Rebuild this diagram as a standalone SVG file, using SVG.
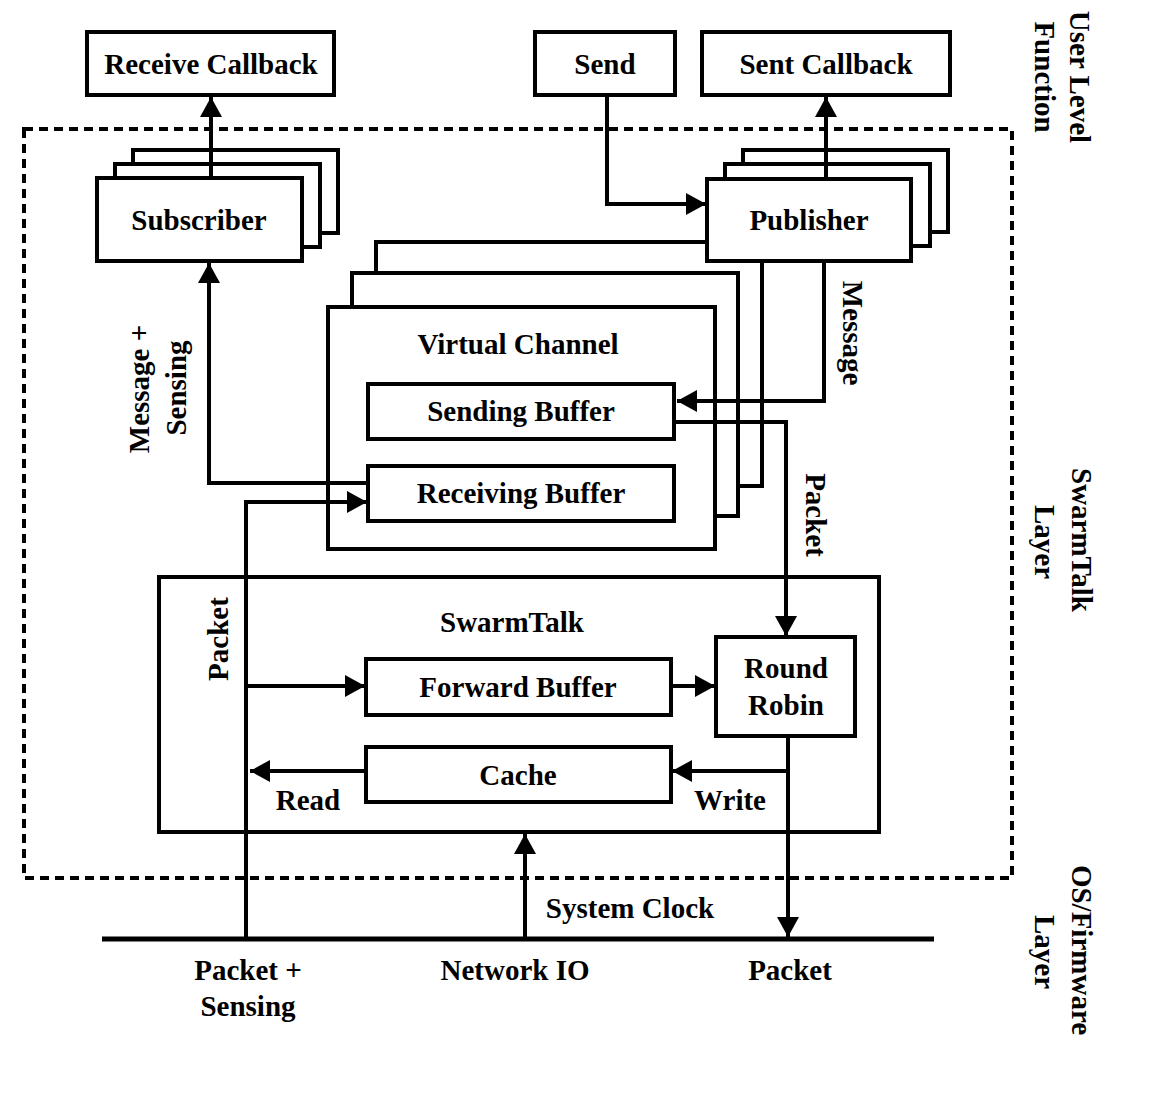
<svg xmlns="http://www.w3.org/2000/svg" width="1153" height="1102" viewBox="0 0 1153 1102">
<style>
.box{fill:#fff;stroke:#000;stroke-width:4}
.ln{fill:none;stroke:#000;stroke-width:4}
.ar{fill:none;stroke:#000;stroke-width:4;marker-end:url(#ah)}
.t{font-family:"Liberation Serif","Times New Roman",serif;font-weight:bold;font-size:29px;fill:#000;text-anchor:middle}
</style>
<defs>
<marker id="ah" markerUnits="userSpaceOnUse" markerWidth="22" markerHeight="22" refX="20" refY="11" orient="auto">
<path d="M0,0 L20,11 L0,22 z" fill="#000"/>
</marker>
</defs>
<rect width="1153" height="1102" fill="#fff"/>

<g id="layer-boundary">
<rect x="24" y="129" width="988" height="749" fill="none" stroke="#000" stroke-width="4" stroke-dasharray="9 6"/>
</g>

<g id="receive-callback">
<rect class="box" x="87" y="32" width="247" height="63"/>
<text class="t" x="211" y="74">Receive Callback</text>
</g>
<g id="send">
<rect class="box" x="535" y="32" width="140" height="63"/>
<text class="t" x="605" y="74">Send</text>
</g>
<g id="sent-callback">
<rect class="box" x="702" y="32" width="248" height="63"/>
<text class="t" x="826" y="74">Sent Callback</text>
</g>

<g id="subscriber">
<rect class="box" x="133" y="150" width="205" height="83"/>
<rect class="box" x="115" y="164" width="205" height="83"/>
<rect class="box" x="97" y="178" width="205" height="83"/>
<text class="t" x="199" y="230">Subscriber</text>
</g>

<g id="virtual-channel">
<rect class="box" x="376" y="242" width="386" height="244"/>
<rect class="box" x="352" y="273" width="386" height="243"/>
<rect class="box" x="328" y="307" width="387" height="242"/>
<text class="t" x="518" y="354">Virtual Channel</text>
</g>

<g id="publisher">
<rect class="box" x="743" y="150" width="205" height="82"/>
<rect class="box" x="725" y="164" width="205" height="82"/>
<rect class="box" x="707" y="179" width="204" height="82"/>
<text class="t" x="809" y="230">Publisher</text>
</g>

<g id="sending-buffer">
<rect class="box" x="368" y="384" width="306" height="55"/>
<text class="t" x="521" y="421">Sending Buffer</text>
</g>
<g id="receiving-buffer">
<rect class="box" x="368" y="466" width="306" height="55"/>
<text class="t" x="521" y="503">Receiving Buffer</text>
</g>

<g id="swarmtalk">
<rect class="box" x="159" y="577" width="720" height="255"/>
<text class="t" x="512" y="632">SwarmTalk</text>
</g>
<g id="forward-buffer">
<rect class="box" x="366" y="659" width="305" height="56"/>
<text class="t" x="518" y="697">Forward Buffer</text>
</g>
<g id="round-robin">
<rect class="box" x="716" y="637" width="139" height="99"/>
<text class="t" x="786" y="678">Round</text>
<text class="t" x="786" y="715">Robin</text>
</g>
<g id="cache">
<rect class="box" x="366" y="747" width="305" height="55"/>
<text class="t" x="518" y="785">Cache</text>
</g>

<g id="network-io">
<line x1="102" y1="939" x2="934" y2="939" stroke="#000" stroke-width="5"/>
<text class="t" x="515" y="980">Network IO</text>
</g>

<g id="connectors">
<path class="ar" d="M211,178 V97"/>
<path class="ar" d="M826,179 V97"/>
<path class="ar" d="M607,95 V204 H706"/>
<path class="ar" d="M368,483 H209 V263"/>
<path class="ar" d="M246,939 V502 H367"/>
<path class="ar" d="M246,686 H365"/>
<path class="ar" d="M671,686 H715"/>
<path class="ar" d="M824,261 V401 H677"/>
<path class="ar" d="M674,422 H786 V636"/>
<path class="ar" d="M788,736 V937"/>
<path class="ar" d="M788,771 H672"/>
<path class="ar" d="M366,771 H250"/>
<path class="ar" d="M525,939 V834"/>
</g>

<g id="labels">
<text class="t" transform="translate(149,389) rotate(-90)">Message +</text>
<text class="t" transform="translate(186,388) rotate(-90)">Sensing</text>
<text class="t" transform="translate(843,333) rotate(90)">Message</text>
<text class="t" transform="translate(806,515) rotate(90)">Packet</text>
<text class="t" transform="translate(228,639) rotate(-90)">Packet</text>
<text class="t" x="308" y="810">Read</text>
<text class="t" x="730" y="810">Write</text>
<text class="t" x="630" y="918">System Clock</text>
<text class="t" x="248" y="980">Packet +</text>
<text class="t" x="248" y="1016">Sensing</text>
<text class="t" x="790" y="980">Packet</text>
<text class="t" transform="translate(1070,77) rotate(90)">User Level</text>
<text class="t" transform="translate(1035,77) rotate(90)">Function</text>
<text class="t" transform="translate(1072,540) rotate(90)">SwarmTalk</text>
<text class="t" transform="translate(1035,542) rotate(90)">Layer</text>
<text class="t" transform="translate(1072,950) rotate(90)">OS/Firmware</text>
<text class="t" transform="translate(1035,952) rotate(90)">Layer</text>
</g>
</svg>
